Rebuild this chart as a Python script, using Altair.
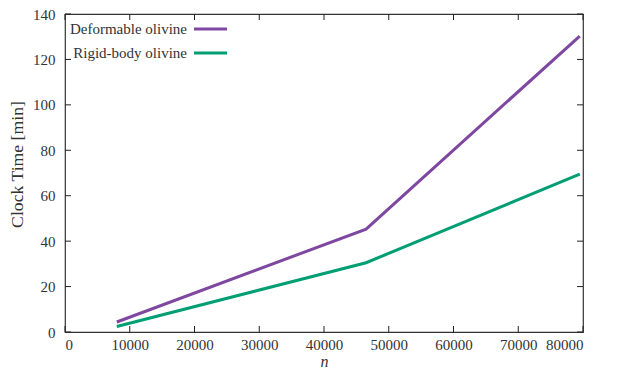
import altair as alt
import pandas as pd

# Data
n_values = [8000, 46500, 79500]
deformable = [4.4, 45.3, 130.3]
rigid = [2.4, 30.5, 69.5]
series_names = ["Deformable olivine", "Rigid-body olivine"]
series_colors = ["#7e47a0", "#009e73"]
x_ticks = [0, 10000, 20000, 30000, 40000, 50000, 60000, 70000, 80000]
y_ticks = [0, 20, 40, 60, 80, 100, 120, 140]

W, H = 518, 318
FONT = "Liberation Serif"

rows = []
for nv, d in zip(n_values, deformable):
    rows.append({"n": nv, "t": d, "s": series_names[0]})
for nv, r in zip(n_values, rigid):
    rows.append({"n": nv, "t": r, "s": series_names[1]})
df = pd.DataFrame(rows)

xs = alt.Scale(domain=[0, 80000], nice=False)
ys = alt.Scale(domain=[0, 140], nice=False)

lines = alt.Chart(df).mark_line(strokeWidth=3).encode(
    x=alt.X("n:Q", scale=xs,
            axis=alt.Axis(values=x_ticks, ticks=False, domain=False, grid=False,
                          labelPadding=5, title="n", titleFontStyle="italic",
                          titleFontSize=16, titlePadding=1, format="d")),
    y=alt.Y("t:Q", scale=ys,
            axis=alt.Axis(values=y_ticks, ticks=False, domain=False, grid=False,
                          labelPadding=10, title="Clock Time [min]",
                          titleFontSize=17.7, titlePadding=6, titleY=150)),
    color=alt.Color("s:N", scale=alt.Scale(domain=series_names, range=series_colors), legend=None),
    detail="s:N",
)

xt = pd.DataFrame({"x": x_ticks})
yt = pd.DataFrame({"y": y_ticks})
tick_col = "#222222"
bot = alt.Chart(xt).mark_rule(color=tick_col, strokeWidth=1).encode(
    x=alt.X("x:Q", scale=xs), y=alt.value(H), y2=alt.value(H - 6))
top = alt.Chart(xt).mark_rule(color=tick_col, strokeWidth=1).encode(
    x=alt.X("x:Q", scale=xs), y=alt.value(0), y2=alt.value(6))
left = alt.Chart(yt).mark_rule(color=tick_col, strokeWidth=1).encode(
    y=alt.Y("y:Q", scale=ys), x=alt.value(0), x2=alt.value(6))
right = alt.Chart(yt).mark_rule(color=tick_col, strokeWidth=1).encode(
    y=alt.Y("y:Q", scale=ys), x=alt.value(W), x2=alt.value(W - 6))

leg_df = pd.DataFrame({"s": series_names})
legend_layers = []
for i, (name, col) in enumerate(zip(series_names, series_colors)):
    yy = 15 + 24 * i
    legend_layers.append(
        alt.Chart(leg_df).transform_filter(alt.datum.s == name).mark_text(
            align="right", baseline="middle", font=FONT, fontSize=15, color="#333333"
        ).encode(text="s:N", x=alt.value(122), y=alt.value(yy))
    )
    legend_layers.append(
        alt.Chart(leg_df).transform_filter(alt.datum.s == name).mark_rule(
            color=col, strokeWidth=3
        ).encode(x=alt.value(129), x2=alt.value(162), y=alt.value(yy))
    )

chart = alt.layer(lines, bot, top, left, right, *legend_layers).properties(
    width=W, height=H,
    autosize=alt.AutoSizeParams(type="none"),
    padding={"left": 57, "top": 6, "right": 25, "bottom": 38},
).configure_view(stroke="#333333", strokeWidth=1.2).configure_axis(
    labelFont=FONT, titleFont=FONT, labelFontSize=15,
    labelColor="#333333", titleColor="#333333", titleFontWeight="normal",
)

chart.save("out.html", embed_options={"renderer": "svg", "actions": False})
